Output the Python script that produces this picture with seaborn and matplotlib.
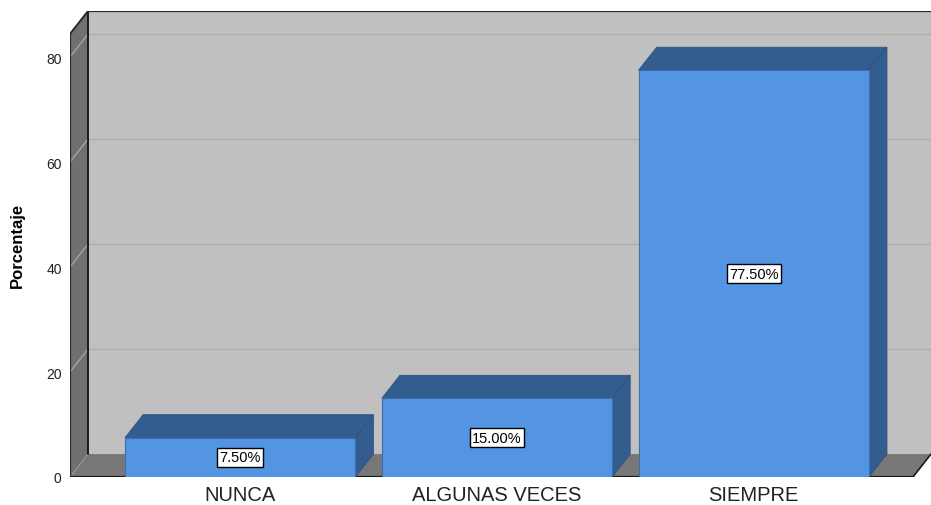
import matplotlib
matplotlib.use("Agg")
import matplotlib.pyplot as plt
from matplotlib.patches import Polygon
import seaborn as sns
import pandas as pd

# data
categorias = ["NUNCA", "ALGUNAS VECES", "SIEMPRE"]
porcentajes = [7.5, 15.0, 77.5]
yticks = [0, 20, 40, 60, 80]

df = pd.DataFrame({"categoria": categorias, "porcentaje": porcentajes})

sns.set_theme(style="white")
plt.rcParams["font.family"] = ["Liberation Sans", "DejaVu Sans"]
plt.rcParams["text.color"] = "black"
plt.rcParams["axes.labelcolor"] = "black"
plt.rcParams["xtick.color"] = "#222222"
plt.rcParams["ytick.color"] = "#222222"

FRONT = "#5394e3"
DARK = "#335c8f"
WALL = "#c0c0c0"
SIDE = "#707070"
FLOOR = "#777777"

# 3d frame geometry (data units)
XL, XR = -0.663, 2.62   # front box left / right
YTOP = 84.4             # front box top
DX, DY = 0.0702, 4.37   # depth offset

fig = plt.figure(figsize=(9.31, 5.06), dpi=100)
ax = fig.add_axes([70 / 931, 28 / 506, 861 / 931, 466 / 506])
ax.set_facecolor("none")

# back wall, left wall, floor
ax.add_patch(Polygon([(XL + DX, DY), (XR + DX, DY), (XR + DX, YTOP + DY), (XL + DX, YTOP + DY)],
                     closed=True, fc=WALL, ec="none", zorder=0))
ax.add_patch(Polygon([(XL, 0), (XL + DX, DY), (XL + DX, YTOP + DY), (XL, YTOP)],
                     closed=True, fc=SIDE, ec="none", zorder=0.5))
ax.add_patch(Polygon([(XL, 0), (XR, 0), (XR + DX, DY), (XL + DX, DY)],
                     closed=True, fc=FLOOR, ec="none", zorder=0.5))

# gridlines on walls
for t in yticks[1:]:
    ax.plot([XL + DX, XR + DX], [t + DY, t + DY], color="#b0b0b0", lw=1.0, zorder=0.3)
    ax.plot([XL, XL + DX], [t, t + DY], color="#a8a8a8", lw=0.9, zorder=0.6)
ax.plot([XL, XL + DX], [0, DY], color="#a0a0a0", lw=0.8, ls=(0, (2, 1)), zorder=0.6)

# frame edges
ax.plot([XL, XL], [0, YTOP], color="#2a2a2a", lw=1.6, zorder=1)
ax.plot([XL, XL + DX], [YTOP, YTOP + DY], color="#2a2a2a", lw=1.4, zorder=1)
ax.plot([XL + DX, XR + DX], [YTOP + DY, YTOP + DY], color="#2a2a2a", lw=1.6, zorder=1)
ax.plot([XL + DX, XL + DX], [DY, YTOP + DY], color="#1a1a1a", lw=1.4, zorder=0.7)
ax.plot([XL, XR], [0, 0], color="#1a1a1a", lw=1.6, zorder=1)
ax.plot([XR, XR + DX], [0, DY], color="#1a1a1a", lw=1.2, zorder=1)

# front faces of bars
sns.barplot(data=df, x="categoria", y="porcentaje", color=FRONT, saturation=1,
            width=0.897, edgecolor="#3f6fa8", linewidth=0.8, ax=ax, zorder=2)

for bar, v in zip(ax.patches[3:], porcentajes):
    x, w, h = bar.get_x(), bar.get_width(), bar.get_height()
    top = [(x, h), (x + DX, h + DY), (x + w + DX, h + DY), (x + w, h)]
    side = [(x + w, 0), (x + w, h), (x + w + DX, h + DY), (x + w + DX, DY)]
    ax.add_patch(Polygon(top, closed=True, fc=DARK, ec="#2d5282", lw=0.6, zorder=1.9))
    ax.add_patch(Polygon(side, closed=True, fc=DARK, ec="#2d5282", lw=0.6, zorder=1.9))
    ax.text(x + w / 2, h / 2, f"{v:.2f}%", ha="center", va="center", fontsize=10.5,
            color="black", zorder=3,
            bbox=dict(boxstyle="square,pad=0.15", fc="white", ec="black", lw=1.0))

ax.set_xlim(XL, XR + DX)
ax.set_ylim(0, YTOP + DY)
ax.set_yticks(yticks)
ax.set_yticklabels([str(t) for t in yticks], fontsize=10)
ax.tick_params(axis="y", length=0, pad=6)
ax.tick_params(axis="x", length=0, pad=6, labelsize=14.5)
for s in ax.spines.values():
    s.set_visible(False)
ax.set_xlabel("")
ax.set_ylabel("Porcentaje", fontsize=12, fontweight="bold")
ax.yaxis.set_label_coords(-0.052, 0.5)

fig.savefig("out.png", dpi=100)
